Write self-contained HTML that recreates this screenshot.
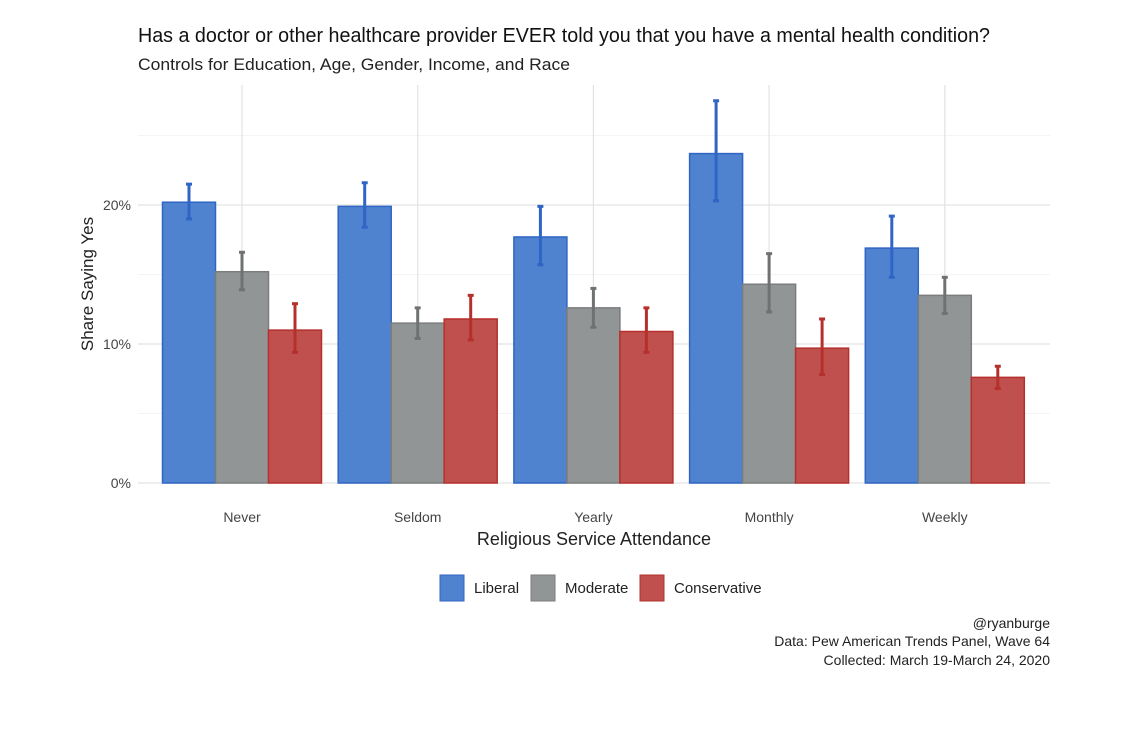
<!DOCTYPE html>
<html><head><meta charset="utf-8"><style>
body{margin:0;background:#fff;}
svg text{font-family:"Liberation Sans",sans-serif;}
</style></head><body>
<svg id="chart" width="1136" height="724" xmlns="http://www.w3.org/2000/svg">
<text x="138" y="42" font-size="20" fill="#111" textLength="852" lengthAdjust="spacingAndGlyphs">Has a doctor or other healthcare provider EVER told you that you have a mental health condition?</text>
<text x="138" y="70" font-size="17" fill="#222" textLength="432" lengthAdjust="spacingAndGlyphs">Controls for Education, Age, Gender, Income, and Race</text>
<g id="grid"></g><g id="bars"></g><g id="axes"></g>
<text transform="translate(93,284) rotate(-90)" text-anchor="middle" font-size="17" fill="#222">Share Saying Yes</text>
<text x="594" y="545" text-anchor="middle" font-size="18" fill="#222">Religious Service Attendance</text>
<g>
<g><rect x="440" y="575" width="24" height="26" fill="#4f82cf" stroke="#2f65c4"/><text x="474" y="593" font-size="15" fill="#222">Liberal</text></g>
<g><rect x="531" y="575" width="24" height="26" fill="#929596" stroke="#7a7d7e"/><text x="565" y="593" font-size="15" fill="#222">Moderate</text></g>
<g><rect x="640" y="575" width="24" height="26" fill="#c0504d" stroke="#b5302c"/><text x="674" y="593" font-size="15" fill="#222">Conservative</text></g>
</g>
<g font-size="14" fill="#222" text-anchor="end">
<text x="1050" y="628">@ryanburge</text>
<text x="1050" y="646">Data: Pew American Trends Panel, Wave 64</text>
<text x="1050" y="665">Collected: March 19-March 24, 2020</text>
</g>
</svg>
<script>
const categories=["Never","Seldom","Yearly","Monthly","Weekly"];
const seriesNames=["Liberal","Moderate","Conservative"];
const liberal=[20.2,19.9,17.7,23.7,16.9];
const liberalLo=[19.0,18.4,15.7,20.3,14.8];
const liberalHi=[21.5,21.6,19.9,27.5,19.2];
const moderate=[15.2,11.5,12.6,14.3,13.5];
const moderateLo=[13.9,10.4,11.2,12.3,12.2];
const moderateHi=[16.6,12.6,14.0,16.5,14.8];
const conservative=[11.0,11.8,10.9,9.7,7.6];
const conservativeLo=[9.4,10.3,9.4,7.8,6.8];
const conservativeHi=[12.9,13.5,12.6,11.8,8.4];
const yTicks=[0,10,20];
const yTickLabels=["0%","10%","20%"];
const ns="http://www.w3.org/2000/svg";
const y=v=>483-v*13.9;
const xc=i=>242+i*175.7;
const bw=53;
function mk(t,a,p){const e=document.createElementNS(ns,t);for(const k in a)e.setAttribute(k,a[k]);p.appendChild(e);return e;}
const grid=document.getElementById('grid'),bars=document.getElementById('bars'),axes=document.getElementById('axes');
for(let v=0;v<=25;v+=5){const l=mk('line',{x1:138,x2:1050,y1:y(v),y2:y(v),stroke:v%10===0?'#e3e3e3':'#f0f0f0','stroke-width':v%10===0?1.2:0.8},grid);

}
categories.forEach((c,i)=>{const l=mk('line',{x1:xc(i),x2:xc(i),y1:85,y2:483,stroke:'#e3e3e3','stroke-width':1.2},grid);


const t=mk('text',{x:xc(i),y:522,'text-anchor':'middle','font-size':14,fill:'#444'},axes);t.textContent=c;

});
yTicks.forEach((v,i)=>{const t=mk('text',{x:131,y:y(v)+5,'text-anchor':'end','font-size':14,fill:'#444'},axes);t.textContent=yTickLabels[i];

});
const S=[[liberal,liberalLo,liberalHi,'#4f82cf','#2f65c4','#2f65c4'],[moderate,moderateLo,moderateHi,'#929596','#7a7d7e','#6f7273'],[conservative,conservativeLo,conservativeHi,'#c0504d','#b5302c','#b5302c']];
categories.forEach((c,i)=>{S.forEach((s,j)=>{const x0=xc(i)-1.5*bw+j*bw;
const r=mk('rect',{x:x0,y:y(s[0][i]),width:bw,height:y(0)-y(s[0][i]),fill:s[3],stroke:s[4],'stroke-width':1.5},bars);


const cx=x0+bw/2;
const g=mk('g',{stroke:s[5],'stroke-width':3},bars);


mk('line',{x1:cx,x2:cx,y1:y(s[1][i]),y2:y(s[2][i])},g);
mk('line',{x1:cx-3,x2:cx+3,y1:y(s[1][i]),y2:y(s[1][i])},g);
mk('line',{x1:cx-3,x2:cx+3,y1:y(s[2][i]),y2:y(s[2][i])},g);});});
</script>
</body></html>
